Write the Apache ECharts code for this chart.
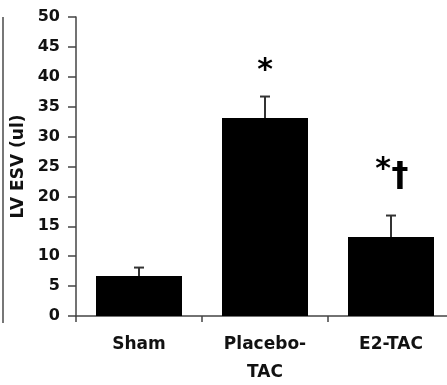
<!DOCTYPE html>
<html lang="en">
<head>
  <meta charset="UTF-8">
  <title>LV ESV</title>
  <style>
    html, body { margin: 0; padding: 0; background: #fff; }
    #main { width: 447px; height: 385px; }
  </style>
</head>
<body>
  <div id="main"></div>
  <script src="https://cdn.jsdelivr.net/npm/echarts@6/dist/echarts.min.js"></script>
  <script>
    var categories = ['Sham', 'Placebo-\nTAC', 'E2-TAC']
    var means = [6.7, 33.1, 13.2]
    var errors = [1.4, 3.6, 3.6]
    var marks = ['', '*', '*†']
    var yMin = 0, yMax = 50, yStep = 5

    var font = 'DejaVu Sans'
    var myChart = echarts.init(document.getElementById('main'))

    var errData = means.map(function (m, i) { return [i, m, m + errors[i]] })
    var markData = means.map(function (m, i) { return [i, m + errors[i]] })

    var options = {
      animation: false,
      grid: { left: 76, top: 17, right: -7, bottom: 69, outerBoundsMode: 'none', containLabel: false },
      xAxis: {
        type: 'category',
        data: categories,
        axisLine: { lineStyle: { color: '#444', width: 1.5 } },
        axisTick: { show: true, length: 6, lineStyle: { color: '#444', width: 1.5 } },
        axisLabel: {
          color: '#111', fontFamily: font, fontWeight: 'bold', fontSize: 17,
          lineHeight: 28, margin: 15
        }
      },
      yAxis: {
        type: 'value',
        min: yMin, max: yMax, interval: yStep,
        name: 'LV ESV (ul)',
        nameLocation: 'middle',
        nameRotate: 90,
        nameGap: 46,
        nameTextStyle: { color: '#111', fontFamily: font, fontWeight: 'bold', fontSize: 17 },
        splitLine: { show: false },
        axisLine: { show: true, lineStyle: { color: '#444', width: 1.5 } },
        axisTick: { show: true, length: 8, lineStyle: { color: '#444', width: 1.5 } },
        axisLabel: { color: '#111', fontFamily: font, fontWeight: 'bold', fontSize: 16, margin: 16 }
      },
      graphic: [{
        type: 'line',
        shape: { x1: 3, y1: 17, x2: 3, y2: 323 },
        style: { stroke: '#777', lineWidth: 2 }
      }],
      series: [
        {
          type: 'bar',
          data: means,
          barWidth: 86,
          itemStyle: { color: '#000' }
        },
        {
          type: 'custom',
          data: errData,
          z: 1,
          renderItem: function (params, api) {
            var lo = api.coord([api.value(0), api.value(1)])
            var hi = api.coord([api.value(0), api.value(2)])
            var style = { stroke: '#333', lineWidth: 2 }
            return {
              type: 'group',
              children: [
                { type: 'line', shape: { x1: lo[0], y1: lo[1], x2: hi[0], y2: hi[1] }, style: style },
                { type: 'line', shape: { x1: hi[0] - 5, y1: hi[1], x2: hi[0] + 5, y2: hi[1] }, style: style }
              ]
            }
          }
        },
        {
          type: 'custom',
          data: markData,
          renderItem: function (params, api) {
            var p = api.coord([api.value(0), api.value(1)])
            var m = marks[params.dataIndex]
            var kids = []
            if (m === '*') {
              kids.push({ type: 'text', x: p[0], y: p[1] - 10,
                style: { text: '*', font: 'bold 30px ' + font, fill: '#000', align: 'center', verticalAlign: 'bottom' } })
            } else if (m === '*†') {
              kids.push({ type: 'text', x: p[0] - 8, y: p[1] - 30,
                style: { text: '*', font: 'bold 30px ' + font, fill: '#000', align: 'center', verticalAlign: 'bottom' } })
              kids.push({ type: 'text', x: p[0] + 9, y: p[1] - 21,
                style: { text: '†', font: 'bold 34px ' + font, fill: '#000', align: 'center', verticalAlign: 'bottom' } })
            }
            return { type: 'group', children: kids }
          }
        }
      ]
    }

    myChart.setOption(options)
  </script>
</body>
</html>
